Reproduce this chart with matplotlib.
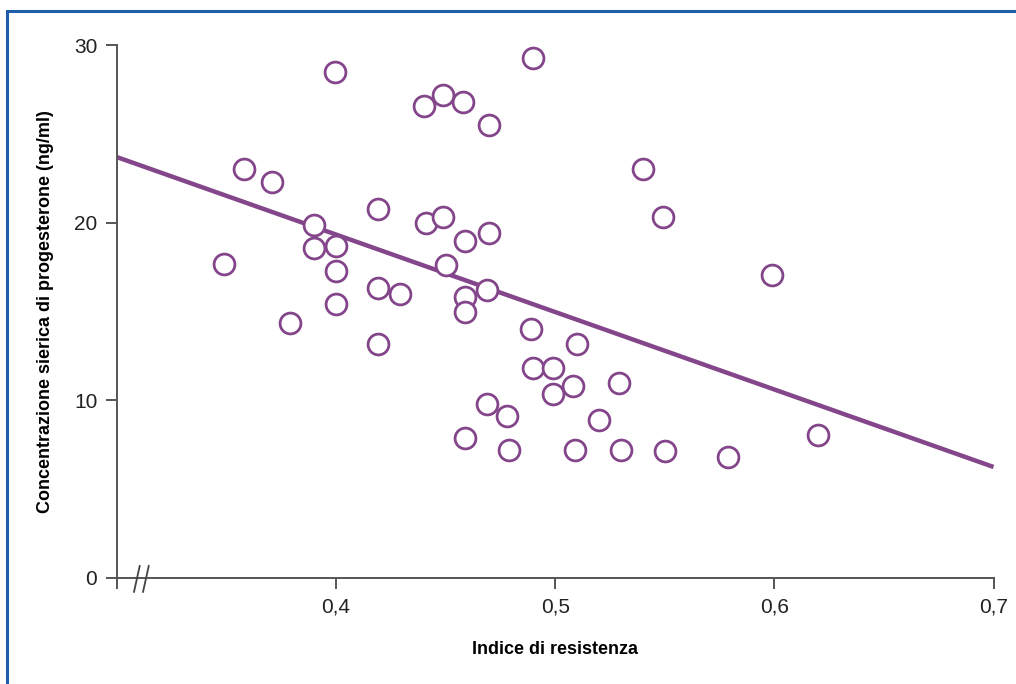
import matplotlib.pyplot as plt
from matplotlib.patches import Rectangle

# dati
indice = [0.349, 0.358, 0.371, 0.379, 0.390, 0.390, 0.3995, 0.400, 0.400, 0.400,
          0.419, 0.419, 0.419, 0.429, 0.440, 0.441, 0.449, 0.449, 0.450, 0.458,
          0.459, 0.459, 0.459, 0.459, 0.470, 0.470, 0.469, 0.469, 0.478, 0.479,
          0.490, 0.489, 0.490, 0.499, 0.499, 0.510, 0.508, 0.509, 0.520, 0.529,
          0.530, 0.540, 0.549, 0.550, 0.579, 0.599, 0.620]
progesterone = [17.7, 23.0, 22.3, 14.35, 19.9, 18.6, 28.5, 18.7, 17.3, 15.4,
                20.8, 16.3, 13.2, 16.0, 26.6, 20.0, 27.2, 20.3, 17.6, 26.8,
                19.0, 15.8, 15.0, 7.9, 25.5, 19.4, 16.2, 9.8, 9.1, 7.2,
                29.3, 14.0, 11.8, 11.8, 10.35, 13.2, 10.8, 7.2, 8.9, 11.0,
                7.2, 23.0, 20.3, 7.15, 6.8, 17.05, 8.05]
retta_x = [0.3, 0.7]
retta_y = [23.7, 6.25]
xticks = [0.3, 0.4, 0.5, 0.6, 0.7]
xlabels = ['', '0,4', '0,5', '0,6', '0,7']
yticks = [0, 10, 20, 30]

viola = '#84468a'
plt.rcParams['font.family'] = ['Liberation Sans', 'DejaVu Sans']

fig = plt.figure(figsize=(10.16, 6.84), dpi=100)
ax = fig.add_axes([0.1149, 0.155, 0.863, 0.779])

ax.plot(retta_x, retta_y, color=viola, lw=3.2, solid_capstyle='butt', zorder=2)
ax.plot(indice, progesterone, 'o', ms=15, mfc='white', mec=viola, mew=2, zorder=3)

ax.set_xlim(0.3, 0.7)
ax.set_ylim(0, 30)
ax.set_xticks(xticks)
ax.set_xticklabels(xlabels)
ax.set_yticks(yticks)
for s in ['top', 'right']:
    ax.spines[s].set_visible(False)
for s in ['left', 'bottom']:
    ax.spines[s].set_color('#555555')
    ax.spines[s].set_linewidth(1.4)
ax.tick_params(direction='out', length=8, width=1.4, color='#555555',
               labelsize=15, labelcolor='#222222', pad=6)

# interruzione dell'asse
for x0 in [0.0197, 0.0300]:
    ax.plot([x0, x0 + 0.0065], [-0.026, 0.0225], transform=ax.transAxes,
            color='#444444', lw=1.3, clip_on=False, zorder=5)

ax.set_xlabel('Indice di resistenza', fontsize=13, fontweight='bold', labelpad=18)
ax.set_ylabel('Concentrazione sierica di progesterone (ng/ml)', fontsize=13,
              fontweight='bold', labelpad=14)

# cornice blu
fig.patches.append(Rectangle((0.0065, -0.05), 1.1, 1.034, transform=fig.transFigure,
                             fill=False, edgecolor='#1f5ea8', lw=2.2))

fig.savefig('out.png', dpi=100)
